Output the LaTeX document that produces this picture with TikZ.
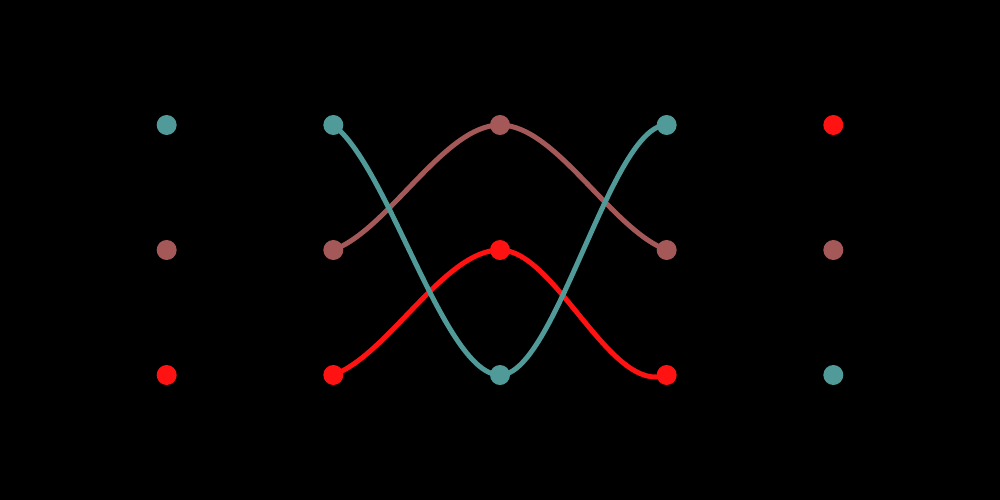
\documentclass[tikz,border=0pt]{standalone}
\usetikzlibrary{backgrounds}
\definecolor{tealc}{RGB}{80,155,153}
\definecolor{brownc}{RGB}{164,88,88}
\definecolor{redc}{RGB}{255,18,18}
\begin{document}
\begin{tikzpicture}[x=0.01cm,y=-0.01cm,
  dot/.style={circle,inner sep=0pt,minimum size=0.2cm,fill=#1},
  wire/.style={draw=#1,line width=0.05cm}]
\useasboundingbox (0,0) rectangle (1000,500);
% column 1
\node[dot=tealc]  (a1) at (166.67,125) {};
\node[dot=brownc] (a2) at (166.67,250) {};
\node[dot=redc]   (a3) at (166.67,375) {};
% column 2
\node[dot=tealc]  (b1) at (333.33,125) {};
\node[dot=brownc] (b2) at (333.33,250) {};
\node[dot=redc]   (b3) at (333.33,375) {};
% column 3
\node[dot=brownc] (c1) at (500,125) {};
\node[dot=redc]   (c2) at (500,250) {};
\node[dot=tealc]  (c3) at (500,375) {};
% column 4
\node[dot=tealc]  (d1) at (666.67,125) {};
\node[dot=brownc] (d2) at (666.67,250) {};
\node[dot=redc]   (d3) at (666.67,375) {};
% column 5
\node[dot=redc]   (e1) at (833.33,125) {};
\node[dot=brownc] (e2) at (833.33,250) {};
\node[dot=tealc]  (e3) at (833.33,375) {};
\begin{scope}[on background layer]
\fill[black] (0,0) rectangle (1000,500);
\path[wire=brownc] (b2.center) .. controls +(55.56,-20.83) and +(-55.56,0) .. (c1.center)
                   .. controls +(55.56,0) and +(-55.56,-20.83) .. (d2.center);
\path[wire=redc]   (b3.center) .. controls +(55.56,-20.83) and +(-55.56,0) .. (c2.center)
                   .. controls +(55.56,0) and +(-55.56,20.83) .. (d3.center);
\path[wire=tealc]  (b1.center) .. controls +(55.56,41.67) and +(-55.56,0) .. (c3.center)
                   .. controls +(55.56,0) and +(-55.56,0) .. (d1.center);
\end{scope}
\end{tikzpicture}
\end{document}
